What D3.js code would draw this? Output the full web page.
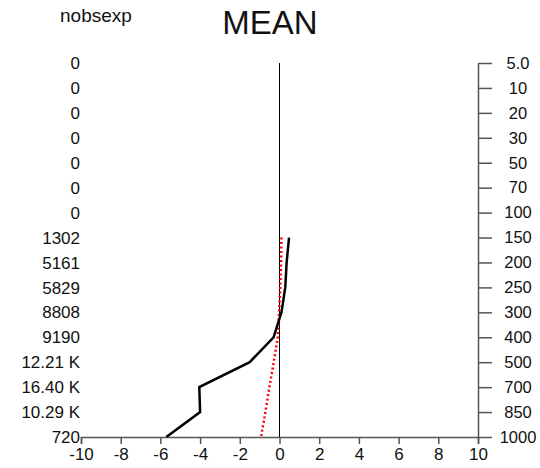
<!DOCTYPE html>
<html>
<head>
<meta charset="utf-8">
<script src="https://cdn.jsdelivr.net/npm/d3@7"></script>
<style>
  body { margin: 0; background: #fff; }
  text { font-family: "Liberation Sans", Arial, sans-serif; fill: #111; }
</style>
</head>
<body>
<div class="chart"></div>
<script>
// pressure levels (hPa), top to bottom
var levels = ['5.0', '10', '20', '30', '50', '70', '100', '150', '200', '250', '300', '400', '500', '700', '850', '1000'];
var nobsLabels = ['0', '0', '0', '0', '0', '0', '0', '1302', '5161', '5829', '8808', '9190', '12.21 K', '16.40 K', '10.29 K', '720'];
var xTicks = [-10, -8, -6, -4, -2, 0, 2, 4, 6, 8, 10];

// mean profiles, levels 150..1000
var profileLevels = ['150', '200', '250', '300', '400', '500', '700', '850', '1000'];
var meanBlack = [0.48, 0.36, 0.29, 0.1, -0.3, -1.5, -4.04, -4.0, -5.7];
var meanRed = [0.1, 0.08, 0.04, -0.02, -0.09, -0.29, -0.51, -0.71, -0.93];

var width = 540, height = 468;
var plot = {left: 81, right: 478, top: 63, bottom: 437};

var svg = d3.select('.chart')
  .append('svg')
    .attr('width', width)
    .attr('height', height);

var x = d3.scaleLinear()
  .domain([-10, 10])
  .range([plot.left, plot.right]);

var y = d3.scalePoint()
  .domain(levels)
  .range([plot.top, plot.bottom]);

// title + corner label
svg.append('text')
  .attr('x', 270).attr('y', 34)
  .attr('text-anchor', 'middle')
  .style('font-size', '33px')
  .text('MEAN');

svg.append('text')
  .attr('x', 60).attr('y', 22)
  .style('font-size', '19px')
  .text('nobsexp');

// bottom axis
var xAxis = svg.append('g')
  .attr('transform', `translate(0, ${plot.bottom})`)
  .call(d3.axisBottom(x).tickValues(xTicks).tickSize(7).tickPadding(4).tickFormat(d3.format('d')));
xAxis.select('.domain').attr('stroke', '#555').attr('stroke-width', 1.5);
xAxis.selectAll('.tick line').attr('stroke', '#555').attr('stroke-width', 1.5);
xAxis.selectAll('.tick text')
  .style('font-size', '17px')
  .style('font-family', '"Liberation Sans", Arial, sans-serif')
  .attr('fill', '#111')
  .text(d => d < 0 ? '-' + Math.abs(d) : d);

// right axis (pressure)
var yAxis = svg.append('g')
  .attr('transform', `translate(${plot.right}, 0)`)
  .call(d3.axisRight(y).tickSize(14).tickSizeOuter(0).tickPadding(0));
yAxis.select('.domain').attr('stroke', '#555').attr('stroke-width', 1.5);
yAxis.selectAll('.tick line').attr('stroke', '#555').attr('stroke-width', 1.5);
yAxis.selectAll('.tick text')
  .attr('x', 40)
  .attr('text-anchor', 'middle')
  .style('font-size', '16.5px')
  .style('font-family', '"Liberation Sans", Arial, sans-serif')
  .attr('fill', '#111');

// observation counts on the left
svg.append('g')
  .selectAll('text')
  .data(levels)
  .enter()
  .append('text')
    .attr('x', plot.left - 1)
    .attr('y', d => y(d))
    .attr('dy', '0.36em')
    .attr('text-anchor', 'end')
    .style('font-size', '17px')
    .text((d, i) => nobsLabels[i]);

// zero line
svg.append('line')
  .attr('x1', x(0)).attr('x2', x(0))
  .attr('y1', plot.top).attr('y2', plot.bottom)
  .attr('stroke', '#000')
  .attr('stroke-width', 1);

var line = d3.line()
  .x(d => x(d[1]))
  .y(d => y(d[0]));

svg.append('path')
  .datum(profileLevels.map((l, i) => [l, meanRed[i]]))
  .attr('d', line)
  .attr('fill', 'none')
  .attr('stroke', '#ff0000')
  .attr('stroke-width', 2.5)
  .attr('stroke-dasharray', '2,2.5');

svg.append('path')
  .datum(profileLevels.map((l, i) => [l, meanBlack[i]]))
  .attr('d', line)
  .attr('fill', 'none')
  .attr('stroke', '#000')
  .attr('stroke-width', 2.5);
</script>
</body>
</html>
